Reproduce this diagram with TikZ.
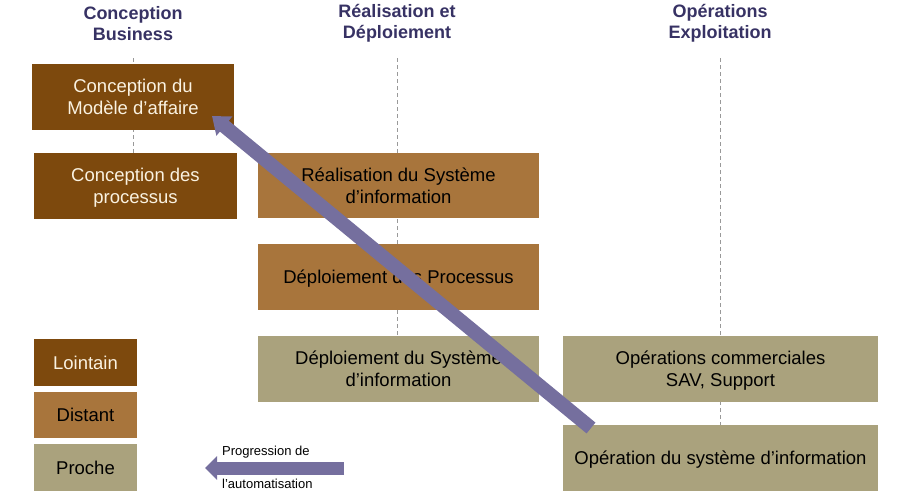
\documentclass[tikz,border=0pt]{standalone}
\usepackage{fontspec}
\setmainfont{Liberation Sans}
\usetikzlibrary{arrows.meta}
\definecolor{dbrown}{RGB}{125,73,13}
\definecolor{mbrown}{RGB}{168,117,60}
\definecolor{khaki}{RGB}{170,162,125}
\definecolor{arrowc}{RGB}{117,111,158}
\definecolor{headc}{RGB}{55,50,100}
\definecolor{cream}{RGB}{250,242,225}
\tikzset{
  box/.style={rectangle, inner sep=0pt, align=center, text depth=-1pt, font=\fontsize{18.5}{22}\selectfont},
  lointain/.style={box, fill=dbrown, text=cream},
  distant/.style={box, fill=mbrown, text=black},
  proche/.style={box, fill=khaki, text=black},
  header/.style={align=center, text=headc, font=\bfseries\fontsize{18}{21}\selectfont},
  guide/.style={gray!80, line width=0.8pt, dash pattern=on 4pt off 3pt},
  bigarrow/.style={arrowc, line width=14pt, -{Triangle[width=24pt,length=16pt]}},
  smallarrow/.style={arrowc, line width=13pt, -{Triangle[width=23pt,length=12pt]}},
  small/.style={anchor=west, inner sep=0pt, font=\fontsize{13}{15}\selectfont}
}
\begin{document}
\begin{tikzpicture}[x=1pt,y=-1pt]
\useasboundingbox (0,0) rectangle (923,498);
% headers
\node[header] (h1) at (133,23.5) {Conception\\Business};
\node[header] (h2) at (397,23.5) {Réalisation et\\Déploiement};
\node[header] (h3) at (720,23.5) {Opérations\\Exploitation};
% guides
\coordinate (g1a) at (133,58); \coordinate (g1b) at (133,153);
\coordinate (g2a) at (397,58); \coordinate (g2b) at (397,402);
\coordinate (g3a) at (720,58); \coordinate (g3b) at (720,425);
\draw[guide] (g1a) -- (g1b);
\draw[guide] (g2a) -- (g2b);
\draw[guide] (g3a) -- (g3b);
% boxes
\node[lointain, minimum width=202pt, minimum height=66pt] (m1) at (133,97) {Conception du\\Modèle d’affaire};
\node[lointain, minimum width=203pt, minimum height=66pt] (m2) at (135.5,186) {Conception des\\processus};
\node[distant, minimum width=281pt, minimum height=65pt] (r1) at (398.5,185.5) {Réalisation du Système\\d’information};
\node[distant, minimum width=281pt, minimum height=66pt] (r2) at (398.5,277) {Déploiement des Processus};
\node[proche, minimum width=281pt, minimum height=66pt] (r3) at (398.5,369) {Déploiement du Système\\d’information};
\node[proche, minimum width=315pt, minimum height=66pt] (o1) at (720.5,369) {Opérations commerciales\\SAV, Support};
\node[proche, minimum width=315pt, minimum height=66pt] (o2) at (720.5,458) {Opération du système d’information};
% legend
\node[lointain, minimum width=103pt, minimum height=47pt] (l1) at (85.5,362.5) {Lointain};
\node[distant, minimum width=103pt, minimum height=46pt] (l2) at (85.5,415) {Distant};
\node[proche, minimum width=103pt, minimum height=47pt] (l3) at (85.5,467.5) {Proche};
% big arrow
\coordinate (bs) at (591,428);
\coordinate (be) at (212,116);
\draw[bigarrow] (bs) -- (be);
% small arrow
\coordinate (ss) at (344,468);
\coordinate (se) at (205,468);
\draw[smallarrow] (ss) -- (se);
\node[small] (t1) at (222,452) {Progression de};
\node[small] (t2) at (222,484) {l’automatisation};
\end{tikzpicture}
\end{document}
